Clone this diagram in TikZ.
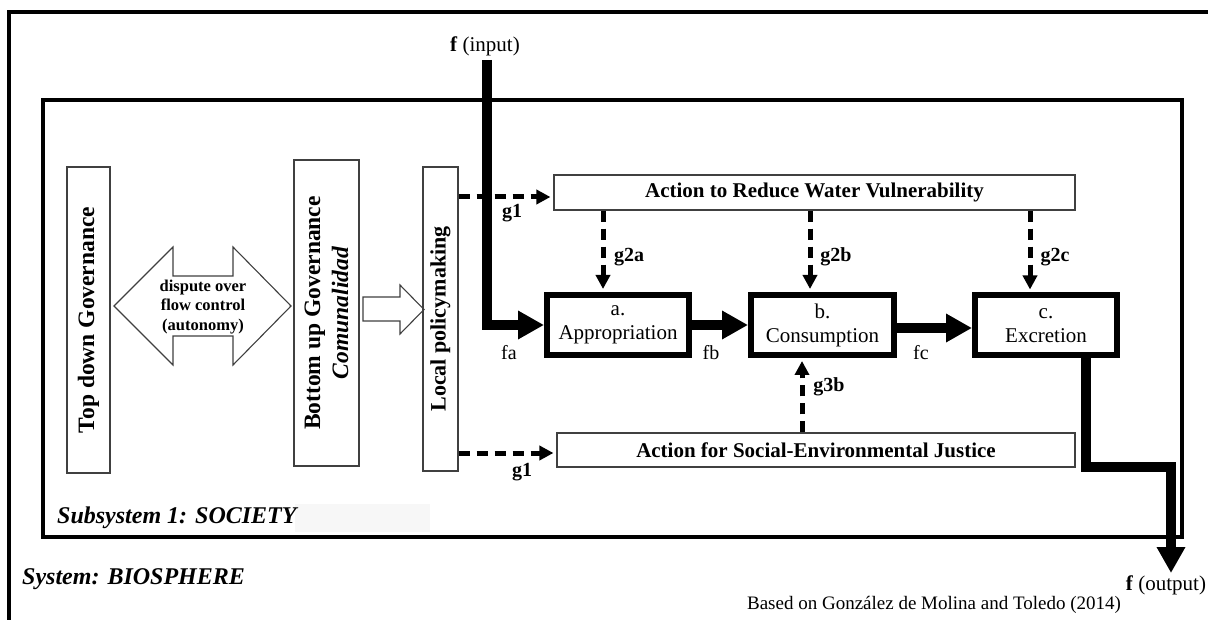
\documentclass[tikz,border=0pt]{standalone}
\usepackage{fontspec}
\setmainfont{Liberation Serif}
\usetikzlibrary{arrows.meta,calc}
\begin{document}
\begin{tikzpicture}[x=1pt,y=-1pt,
  thinbox/.style={draw=black!75, line width=1.1pt, inner sep=0pt},
  procbox/.style={draw, line width=6pt, inner sep=0pt, minimum width=142pt, minimum height=60pt, align=center, font=\fontsize{21}{24}\selectfont},
  flow/.style={line width=10pt, -{Triangle[length=26pt,width=27pt]}},
  ctrl/.style={line width=5pt, dash pattern=on 11pt off 7pt, shorten >=3pt, -{Triangle[length=14pt,width=14pt]}},
  lbl/.style={font=\fontsize{20}{24}\selectfont\bfseries, inner sep=0pt},
  flbl/.style={font=\fontsize{20}{24}\selectfont, inner sep=0pt},
  frame/.style={line width=4.5pt},
  bigtxt/.style={font=\fontsize{23.5}{28}\selectfont\bfseries, inner sep=0pt, rotate=90, align=center},
  titletxt/.style={font=\fontsize{24}{28}\selectfont\bfseries\itshape, inner sep=0pt, anchor=west},
]
\useasboundingbox (0,0) rectangle (1208,620);
\fill[white] (0,0) rectangle (1208,620);

% frames
\draw[frame] (9,622) -- (9,12) -- (1210,12);
\fill[black!3] (295,504) rectangle (430,532);
\draw[frame] (43,100) rectangle (1182,537);

% left column boxes
\node[thinbox, minimum width=43pt, minimum height=306pt] (topdown) at (88.5,320) {};
\node[bigtxt] (topdowntxt) at (topdown) {Top down Governance};
\node[thinbox, minimum width=65pt, minimum height=306pt] (bottomup) at (326.5,313) {};
\node[bigtxt] (bottomuptxt) at (bottomup) {Bottom up Governance\\\textit{Comunalidad}};
\node[thinbox, minimum width=35pt, minimum height=304pt] (local) at (440.5,319) {};
\node[bigtxt, font=\fontsize{22}{26}\selectfont\bfseries] (localtxt) at (local) {Local policymaking};

% double arrow
\draw[black!75, line width=1.1pt, line join=miter] (114,306) -- (173,247) -- (173,276) -- (233,276) -- (233,247) -- (291,306) -- (233,365) -- (233,336) -- (173,336) -- (173,365) -- cycle;
\node[font=\fontsize{16.5}{19.5}\selectfont\bfseries, align=center, inner sep=0pt] (dispute) at (203,307) {dispute over\\flow control\\(autonomy)};
% single arrow
\draw[black!75, line width=1.1pt, line join=miter] (363,297) -- (400,297) -- (400,285) -- (424,309.5) -- (400,334) -- (400,321) -- (363,321) -- cycle;

% action boxes
\node[thinbox, minimum width=521pt, minimum height=35pt, font=\fontsize{21}{24}\selectfont\bfseries] (actwv) at (814.5,192.5) {Action to Reduce Water Vulnerability};
\node[thinbox, minimum width=518pt, minimum height=34pt, font=\fontsize{21}{24}\selectfont\bfseries] (actsej) at (816,450) {Action for Social-Environmental Justice};

% process boxes
\node[procbox] (appr) at (618,325) {a.\\Appropriation};
\node[procbox, minimum width=143pt] (cons) at (822.5,325) {b.\\Consumption};
\node[procbox] (excr) at (1046,325.5) {c.\\Excretion};

% flows
\coordinate (fin) at (487,60);
\draw[flow] (fin) |- (appr.west);
\draw[flow] (appr) -- (cons);
\coordinate (fcy) at (0,328);
\draw[flow] (cons.east |- fcy) -- (excr.west |- fcy);
\coordinate (oc1) at (1086,467);
\coordinate (fout) at (1171,573);
\draw[flow] (excr.south -| oc1) -- (oc1) -| (fout);

% control arrows
\coordinate (g1a) at (0,197);
\coordinate (g1b) at (0,453);
\draw[ctrl] (local.east |- g1a) -- (actwv.west |- g1a);
\draw[ctrl] (local.east |- g1b) -- (actsej.west |- g1b);
\coordinate (g2ax) at (603,0);
\coordinate (g2bx) at (810,0);
\coordinate (g2cx) at (1030,0);
\coordinate (g3bx) at (802,0);
\draw[ctrl] (actwv.south -| g2ax) -- (appr.north -| g2ax);
\draw[ctrl] (actwv.south -| g2bx) -- (cons.north -| g2bx);
\draw[ctrl] (actwv.south -| g2cx) -- (excr.north -| g2cx);
\draw[ctrl] (actsej.north -| g3bx) -- (cons.south -| g3bx);

% labels
\node[flbl, font=\fontsize{21}{24}\selectfont] (inlbl) at (485,46) {\textbf{f} (input)};
\node[flbl, font=\fontsize{21}{24}\selectfont] (outlbl) at (1166,585) {\textbf{f} (output)};
\node[lbl] (g1al) at (512,213) {g1};
\node[lbl] (g1bl) at (522,472) {g1};
\node[lbl] (g2al) at (629,257) {g2a};
\node[lbl] (g2bl) at (836,257) {g2b};
\node[lbl] (g2cl) at (1055,257) {g2c};
\node[lbl] (g3bl) at (829,387) {g3b};
\node[flbl] (fal) at (509,353) {fa};
\node[flbl] (fbl) at (711,353) {fb};
\node[flbl] (fcl) at (921,353) {fc};
\node[flbl, font=\fontsize{19}{22}\selectfont] (src) at (934,605) {Based on González de Molina and Toledo (2014)};

% subsystem / system titles
\node[titletxt] (sub) at (57,518) {Subsystem 1: SOCIETY};
\node[titletxt] (sys) at (22,579) {System: BIOSPHERE};
\end{tikzpicture}
\end{document}
